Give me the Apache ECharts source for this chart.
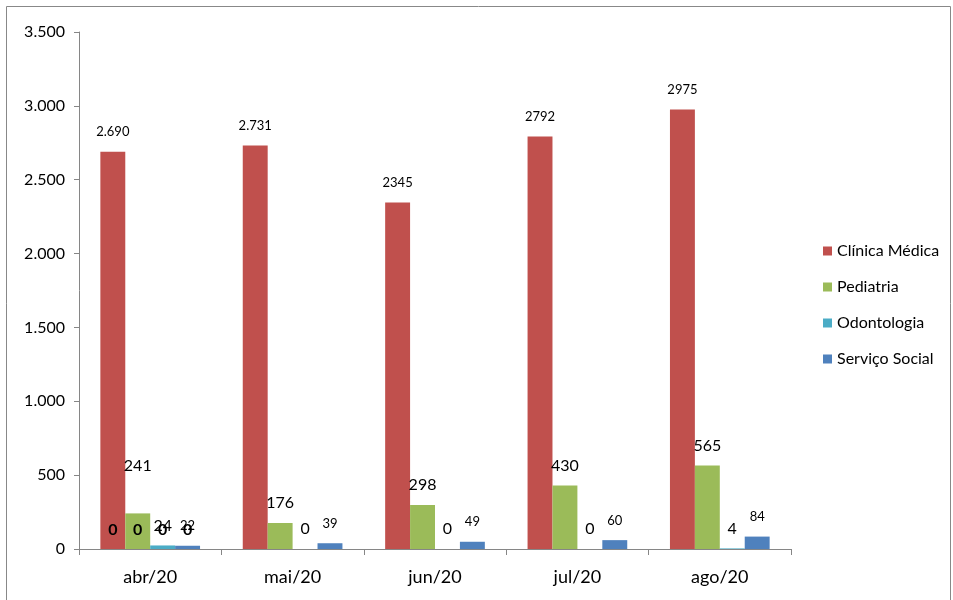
<!DOCTYPE html>
<html><head><meta charset="utf-8">
<script src="https://cdn.jsdelivr.net/npm/echarts@6/dist/echarts.min.js"></script>
<style>html,body{margin:0;padding:0;background:#fff}#c{width:953px;height:600px}</style>
</head><body><div id="c"></div>
<script>
const categories = ['abr/20','mai/20','jun/20','jul/20','ago/20'];
const seriesNames = ['Clínica Médica','Pediatria','Odontologia','Serviço Social'];
const clinica = [2690, 2731, 2345, 2792, 2975];
const clinicaLabels = ['2.690','2.731','2345','2792','2975'];
const pediatria = [241, 176, 298, 430, 565];
const odontologia = [24, 0, 0, 0, 4];
const servico = [22, 39, 49, 60, 84];
const overlapZeros = [0, null, null, null, null];
const colors = ['#C0504D','#9BBB59','#4BACC6','#4F81BD'];
const FONT = 'Lato, "Open Sans", sans-serif';

function fmt(v){ return String(v).replace(/\B(?=(\d{3})+(?!\d))/g, '.'); }

const chart = echarts.init(document.getElementById('c'));
const xAxisBase = {
  type:'category', data:categories,
  axisLine:{show:true, lineStyle:{color:'#868686', width:1}},
  axisTick:{show:true, alignWithLabel:false, length:6, lineStyle:{color:'#868686'}},
  axisLabel:{color:'#000', fontSize:18, fontFamily:FONT, margin:19},
};
const series = [
  {name:seriesNames[0], type:'bar', data:clinica, itemStyle:{color:colors[0]},
   label:{show:true, position:'top', distance:13, fontSize:13, fontFamily:FONT, color:'#000',
          formatter:p=>clinicaLabels[p.dataIndex]}},
  {name:seriesNames[1], type:'bar',
   data:pediatria.map((v,i)=> i===0 ? {value:v, label:{distance:40}} : v),
   itemStyle:{color:colors[1]},
   label:{show:true, position:'top', distance:12, fontSize:16, fontFamily:FONT, color:'#000'}},
  {name:seriesNames[2], type:'bar', data:odontologia, itemStyle:{color:colors[2]},
   label:{show:true, position:'top', distance:12, fontSize:16, fontFamily:FONT, color:'#000'}},
  {name:seriesNames[3], type:'bar', data:servico, itemStyle:{color:colors[3]},
   label:{show:true, position:'top', distance:13, fontSize:13, fontFamily:FONT, color:'#000'}},
];
// overlapping bold "0" labels in the first category
for (let k=0;k<4;k++){
  series.push({name:'z'+k, type:'bar', xAxisIndex:1, data:overlapZeros,
    itemStyle:{color:'transparent'}, silent:true,
    label:{show:true, position:'top', distance:11, fontSize:16, fontWeight:'bold', fontFamily:FONT, color:'#000'}});
}
chart.setOption({
  animation:false,
  textStyle:{fontFamily:FONT},
  grid:{left:79, right:162, top:32, bottom:51, containLabel:false},
  legend:{orient:'vertical', left:818, top:238, itemGap:20, itemWidth:9, itemHeight:9,
    icon:'rect', data:seriesNames, textStyle:{fontSize:16, fontFamily:FONT, color:'#000'}},
  xAxis:[xAxisBase, Object.assign({}, xAxisBase, {show:false})],
  yAxis:{type:'value', min:0, max:3500, interval:500,
    axisLine:{show:true, lineStyle:{color:'#868686'}},
    axisTick:{show:true, length:5, lineStyle:{color:'#868686'}},
    splitLine:{show:false},
    axisLabel:{color:'#000', fontSize:16, fontFamily:FONT, margin:14, formatter:v=>fmt(v)}},
  barGap:'0%',
  series:series.map(s=>Object.assign({barGap:'0%', barCategoryGap:'30%'}, s)),
  graphic:[{type:'rect', shape:{x:6.5, y:6.5, width:944, height:600}, style:{fill:'none', stroke:'#888', lineWidth:1}, silent:true}]
});
</script></body></html>
